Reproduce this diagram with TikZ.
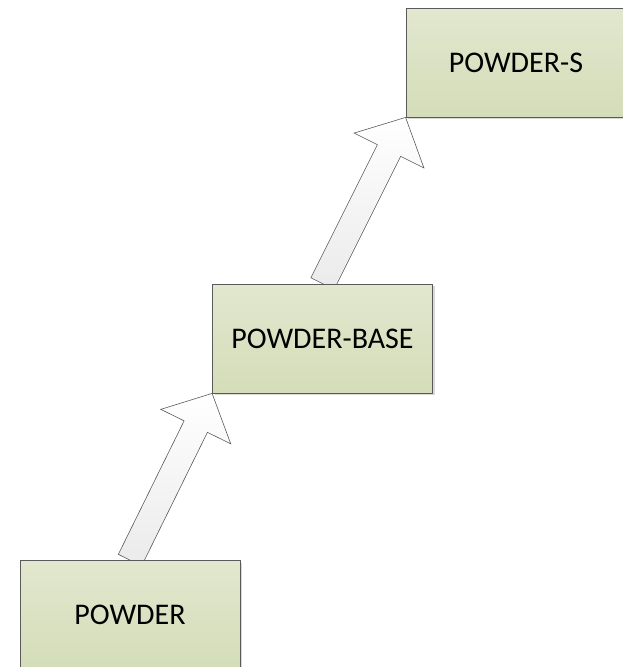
\documentclass[tikz,border=0pt]{standalone}
\usepackage{fontspec}
\setmainfont{Carlito}
\usetikzlibrary{calc,backgrounds,shadows}

\definecolor{boxtop}{RGB}{226,231,207}
\definecolor{boxbot}{RGB}{212,221,184}
\definecolor{edgegray}{RGB}{90,90,90}

\begin{document}
\begin{tikzpicture}[
    x=1pt, y=-1pt,
    box/.style={draw=edgegray, line width=0.8pt, top color=boxtop, bottom color=boxbot,
        minimum width=220pt, minimum height=109pt, inner sep=0pt,
        font=\fontsize{30}{36}\selectfont,
        drop shadow={shadow xshift=2pt, shadow yshift=-2pt, fill=black!30, opacity=0.5}},
    blockarrow/.style={draw=edgegray, line width=0.6pt, top color=white, bottom color=black!8}
]
\useasboundingbox (0,0) rectangle (623,667);

\node[box] (powder) at (130,615) {POWDER};
\node[box] (base) at (322.5,338.5) {POWDER-BASE};
\node[box] (powders) at (516,62.5) {POWDER-S};

% block arrows, tail on a box top, tip at the next box corner
\begin{scope}[on background layer]
\foreach \from/\to in {powder/base, base/powders} {
    \coordinate (tail) at (\from.north);
    \coordinate (tip) at (\to.south west);
    \coordinate (neck) at ($(tip)!37pt!(tail)$);
    \draw[blockarrow]
        ($(tail)!13pt!90:(tip)$) -- ($(neck)!13pt!-90:(tail)$)
        -- ($(neck)!39pt!-90:(tail)$) -- (tip)
        -- ($(neck)!39pt!90:(tail)$) -- ($(neck)!13pt!90:(tail)$)
        -- ($(tail)!13pt!-90:(tip)$) -- cycle;
}
\end{scope}
\end{tikzpicture}
\end{document}
